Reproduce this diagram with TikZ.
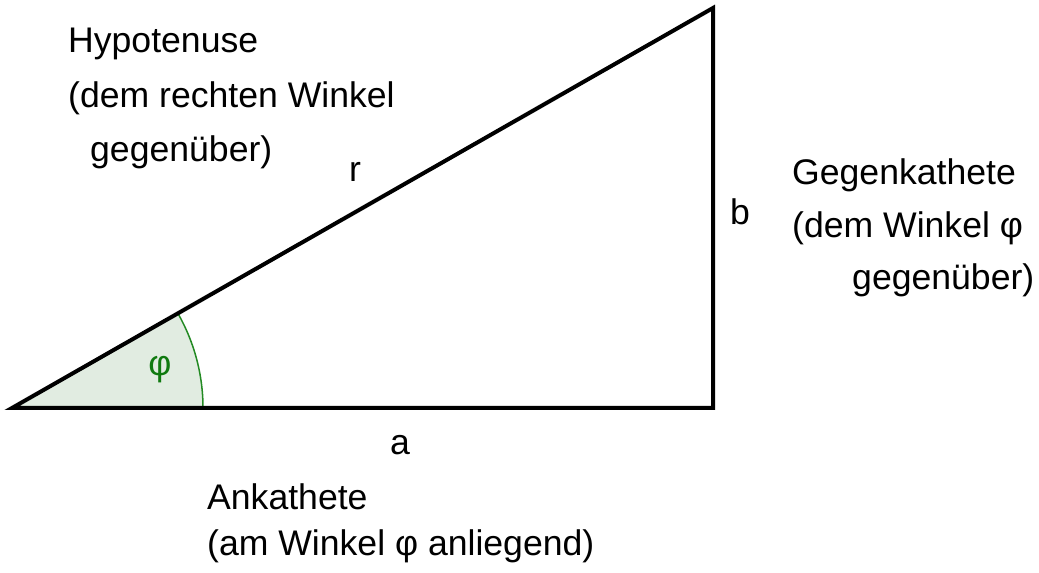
\documentclass[tikz,border=0pt]{standalone}
\usepackage{fontspec}
\setmainfont{Liberation Sans}
\definecolor{anglefillc}{HTML}{E1ECE1}
\definecolor{arcc}{HTML}{238A23}
\definecolor{phic}{HTML}{107A10}
\tikzset{
  lbl/.style={inner sep=0pt, font=\fontsize{35.6}{55}\selectfont, text=black},
  side/.style={line width=4pt, line join=miter},
  anglefill/.style={fill=anglefillc},
  anglearc/.style={draw=arcc, line width=1.5pt},
}
\begin{document}
\begin{tikzpicture}[x=1pt,y=1pt]
\useasboundingbox (0,0) rectangle (1039,573);
\coordinate (A) at (12,165);
\coordinate (B) at (713,165);
\coordinate (C) at (713,565);
\path (A) ++(0:191) coordinate (P);
\fill[anglefill] (A) -- (P) arc[start angle=0,end angle=29.71,radius=191] -- cycle;
\draw[anglearc] (P) arc[start angle=0,end angle=29.71,radius=191];
\draw[side] (A) -- (B) -- (C) -- cycle;
\node[lbl, text=phic] (phi) at (160,203) {φ};
\node[lbl, anchor=base] (r) at (355,391) {r};
\node[lbl, anchor=base] (b) at (740,348) {b};
\node[lbl, anchor=base] (a) at (400,118) {a};
\node[lbl, anchor=base west] (h1) at (68,520) {Hypotenuse};
\node[lbl, anchor=base west] (h2) at (68,465) {(dem rechten Winkel};
\node[lbl, anchor=base west] (h3) at (90,411) {gegenüber)};
\node[lbl, anchor=base west] (g1) at (792,388) {Gegenkathete};
\node[lbl, anchor=base west] (g2) at (792,335) {(dem Winkel φ};
\node[lbl, anchor=base west] (g3) at (852,283) {gegenüber)};
\node[lbl, anchor=base west] (k1) at (207,63) {Ankathete};
\node[lbl, anchor=base west] (k2) at (207,17) {(am Winkel φ anliegend)};
\end{tikzpicture}
\end{document}
